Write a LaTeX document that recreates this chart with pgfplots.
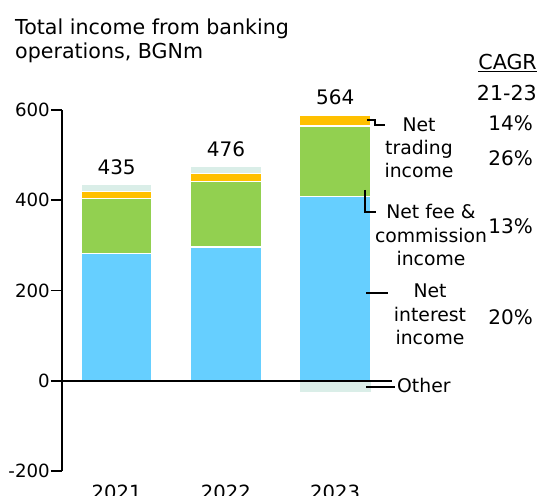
\documentclass[border=0pt]{standalone}
\usepackage{pgfplots}
\pgfplotsset{compat=1.18}
\usepackage{fontspec}
\setmainfont{DejaVu Sans}
\definecolor{cInt}{HTML}{66CFFF}
\definecolor{cFee}{HTML}{92D050}
\definecolor{cTrd}{HTML}{FFC000}
\definecolor{cOth}{HTML}{DAEEE8}
\newcommand{\fA}{\fontsize{18.8bp}{23bp}\selectfont}
\newcommand{\fB}{\fontsize{20bp}{24bp}\selectfont}
\newcommand{\fC}{\fontsize{20.6bp}{24bp}\selectfont}
\begin{document}
\begin{tikzpicture}[font=\fA]
\useasboundingbox (0,0) rectangle (539bp,496bp);
\pgfplotsset{myax/.style={scale only axis, width=330bp, height=361bp,
  xmin=-0.5, xmax=2.52, ymin=-200, ymax=600,
  at={(62bp,25bp)}, anchor=south west, clip=false}}
\begin{axis}[myax, ybar stacked, bar width=71bp,
  axis lines=left, axis line style={-, line width=1.6bp},
  x axis line style={draw=none},
  xtick={0,1,2}, xticklabels={2021,2022,2023}, xtick style={draw=none},
  xticklabel style={anchor=base, yshift=-17bp, font=\fontsize{19.6bp}{24bp}\selectfont},
  ytick={-200,0,200,400,600}, yticklabels={-200,0,200,400,600},
  yticklabel style={inner sep=1bp, font=\fontsize{18.2bp}{22bp}\selectfont},
  ytick style={line width=1.6bp, black}, tick align=outside, major tick length=11bp]
\addplot[fill=cInt, draw=white, line width=1.5bp] coordinates {(0,282) (1,296) (2,408)};
\addplot[fill=cFee, draw=white, line width=1.5bp] coordinates {(0,122) (1,145) (2,157)};
\addplot[fill=cTrd, draw=white, line width=1.5bp] coordinates {(0,15) (1,18) (2,23)};
\addplot[fill=cOth, draw=white, line width=1.5bp] coordinates {(0,16) (1,17) (2,0)};
\node[yshift=17bp, font=\fB] at (axis cs:0,435) {435};
\node[yshift=17bp, font=\fB] at (axis cs:1,476) {476};
\node[yshift=17bp, font=\fB] at (axis cs:2,591) {564};
\end{axis}
\begin{axis}[myax, hide axis, ybar, bar width=71bp]
\addplot[fill=cOth, draw=none, bar shift=0pt] coordinates {(2,-24)};
\draw[line width=1.6bp] (axis cs:-0.5,0) -- (axis cs:2.52,0);
\end{axis}
\begin{scope}[x=1bp,y=-1bp,shift={(0,496bp)}]
\node[anchor=base west, inner sep=0, font=\fC] at (15,35) {Total income from banking};
\node[anchor=base west, inner sep=0, font=\fC] at (15,59) {operations, BGNm};
\node[anchor=base east, inner sep=0, font=\fC] at (537,70) {\underline{CAGR}};
\node[anchor=base east, inner sep=0, font=\fC] at (537,101) {21-23};
\node[anchor=base east, inner sep=0, font=\fB] at (533,131) {14\%};
\node[anchor=base east, inner sep=0, font=\fB] at (533,166) {26\%};
\node[anchor=base east, inner sep=0, font=\fB] at (533,234) {13\%};
\node[anchor=base east, inner sep=0, font=\fB] at (533,325) {20\%};
\node[anchor=base, inner sep=0] at (419,132) {Net};
\node[anchor=base, inner sep=0] at (419,155) {trading};
\node[anchor=base, inner sep=0] at (419,178) {income};
\node[anchor=base, inner sep=0] at (431,219) {Net fee \&};
\node[anchor=base, inner sep=0] at (431,243) {commission};
\node[anchor=base, inner sep=0] at (431,266) {income};
\node[anchor=base, inner sep=0] at (430,298) {Net};
\node[anchor=base, inner sep=0] at (430,322) {interest};
\node[anchor=base, inner sep=0] at (430,345) {income};
\node[anchor=base west, inner sep=0] at (397,393) {Other};
\draw[line width=1.1bp] (367,120) -- (375,120) -- (375,125) -- (385,125);
\draw[line width=1.1bp] (365,190) -- (365,212) -- (376,212);
\draw[line width=1.1bp] (366,293) -- (388,293);
\draw[line width=1.1bp] (366,387) -- (395,387);
\end{scope}
\end{tikzpicture}
\end{document}
